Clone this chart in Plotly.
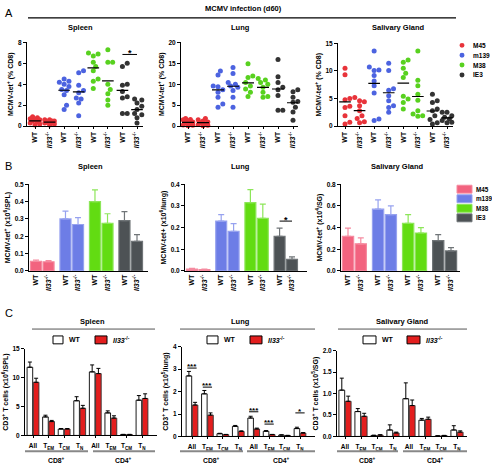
import plotly.graph_objects as go

# ---------------- data ----------------
epitopes = ["M45", "m139", "M38", "IE3"]
geno_ticks = ["WT", "<i>Il33</i><sup>-/-</sup>"]

# Panel A: % tetramer+ of CD8 (one list per epitope: M45, m139, M38, IE3)
a_spleen_wt = [[0.9, 0.8, 0.7, 0.6, 0.6, 0.5, 0.4, 0.3, 0.2, 0.1],
               [4.5, 4.3, 4.2, 4.0, 3.8, 3.5, 3.4, 3.0, 2.0, 1.6],
               [7.0, 6.9, 6.7, 6.1, 5.7, 5.3, 4.5, 4.3, 3.6],
               [6.0, 5.7, 4.0, 3.9, 3.3, 2.8, 2.7, 1.2, 1.2]]
a_spleen_ko = [[0.6, 0.6, 0.5, 0.5, 0.4, 0.4, 0.3, 0.3, 0.2, 0.1],
               [5.3, 5.1, 3.9, 3.4, 3.2, 2.7, 2.6, 2.2, 1.0],
               [7.3, 6.1, 6.1, 4.0, 3.5, 3.1, 2.5, 2.0],
               [2.6, 2.5, 2.2, 1.9, 1.6, 1.2, 1.1, 0.8, 0.3]]
a_lung_wt = [[1.8, 1.6, 1.5, 1.2, 1.0, 0.8, 0.5, 0.3, 0.2, 0.1],
             [13.2, 12.2, 9.6, 9.4, 8.7, 8.1, 6.9, 5.3, 4.5],
             [14.9, 12.0, 11.6, 10.4, 9.6, 8.9, 8.1, 7.1],
             [15.9, 11.8, 10.4, 9.3, 8.7, 7.3, 3.8, 3.8]]
a_lung_ko = [[1.8, 1.5, 1.2, 1.0, 0.8, 0.6, 0.4, 0.2, 0.1],
             [14.0, 12.6, 10.4, 10.0, 9.6, 9.3, 8.5, 6.9, 4.5],
             [11.4, 11.0, 10.4, 10.0, 9.3, 8.1, 7.1, 6.9],
             [8.7, 8.2, 6.9, 5.9, 5.7, 4.5, 3.4, 1.4]]
a_sg_wt = [[10.5, 9.3, 5.0, 4.8, 3.6, 3.4, 1.9, 0.7, 0.4],
           [13.6, 10.7, 10.2, 10.1, 9.2, 8.2, 7.3, 6.0, 1.3, 1.0],
           [12.0, 11.6, 10.5, 9.6, 8.8, 5.4, 4.9, 4.3, 3.1],
           [5.8, 4.6, 4.3, 3.1, 2.8, 1.9, 1.2, 0.6, 0.4]]
a_sg_ko = [[5.2, 4.6, 4.4, 3.7, 2.8, 1.9, 1.4, 0.8, 0.6],
           [11.4, 10.1, 6.8, 6.5, 5.5, 4.6, 3.7, 3.4, 2.5],
           [13.6, 8.3, 7.3, 5.8, 4.7, 2.8, 2.2, 1.9, 1.8],
           [2.5, 2.5, 1.9, 1.6, 1.3, 1.0, 0.7, 0.6]]

# Panel B: absolute numbers, mean and SEM (M45, m139, M38, IE3)
b_spleen_wt = [0.055, 0.30, 0.40, 0.29]
b_spleen_wt_err = [0.008, 0.045, 0.068, 0.052]
b_spleen_ko = [0.053, 0.268, 0.275, 0.17]
b_spleen_ko_err = [0.006, 0.04, 0.055, 0.04]
b_lung_wt = [0.008, 0.23, 0.315, 0.16]
b_lung_wt_err = [0.004, 0.03, 0.06, 0.038]
b_lung_ko = [0.006, 0.183, 0.243, 0.053]
b_lung_ko_err = [0.002, 0.035, 0.065, 0.012]
b_sg_wt = [0.32, 0.57, 0.44, 0.28]
b_sg_wt_err = [0.075, 0.085, 0.08, 0.055]
b_sg_ko = [0.25, 0.52, 0.35, 0.185]
b_sg_ko_err = [0.055, 0.08, 0.05, 0.03]

# Panel C: CD3+ T cell subsets (CD8 All, TEM, TCM, TN, CD4 All, TEM, TCM, TN)
subset_ticks = ["All", "T<sub>EM</sub>", "T<sub>CM</sub>", "T<sub>N</sub>",
                "All", "T<sub>EM</sub>", "T<sub>CM</sub>", "T<sub>N</sub>"]
c_spleen_wt = [11.8, 3.2, 1.1, 6.0, 11.0, 3.9, 0.15, 6.1]
c_spleen_wt_err = [0.9, 0.3, 0.1, 0.7, 1.2, 0.35, 0.04, 0.8]
c_spleen_ko = [9.2, 2.4, 1.1, 4.7, 10.7, 3.0, 0.15, 6.4]
c_spleen_ko_err = [0.7, 0.2, 0.1, 0.5, 0.9, 0.4, 0.04, 0.8]
c_lung_wt = [2.7, 1.9, 0.12, 0.45, 0.82, 0.23, 0.06, 0.35]
c_lung_wt_err = [0.2, 0.15, 0.02, 0.04, 0.08, 0.03, 0.01, 0.06]
c_lung_ko = [1.4, 0.95, 0.08, 0.22, 0.33, 0.08, 0.04, 0.15]
c_lung_ko_err = [0.12, 0.1, 0.01, 0.03, 0.04, 0.01, 0.01, 0.02]
c_sg_wt = [1.08, 0.58, 0.02, 0.15, 0.88, 0.38, 0.01, 0.15]
c_sg_wt_err = [0.28, 0.07, 0.01, 0.12, 0.37, 0.04, 0.005, 0.1]
c_sg_ko = [0.82, 0.47, 0.03, 0.08, 0.72, 0.40, 0.02, 0.10]
c_sg_ko_err = [0.12, 0.07, 0.01, 0.02, 0.13, 0.05, 0.005, 0.03]

# ---------------- style ----------------
W, H = 492, 467
FONT = "Arial, Liberation Sans, sans-serif"
dot_colors = ["#e8333a", "#4c63e0", "#58d11f", "#333333"]
bar_fill = ["#f2637f", "#6d7de6", "#62dc12", "#4d5255"]
bar_line = ["#f58ba0", "#97a2ef", "#8de659", "#707578"]
ko_red = "#e31e1e"

fig = go.Figure()


def X(p):
    return p / W


def Y(p):
    return 1 - p / H


def xrange_for(ax0, ax1, c0, c1, v0, v1):
    ppu = (c1 - c0) / (v1 - v0)
    return [v0 - (c0 - ax0) / ppu, v1 + (ax1 - c1) / ppu], ppu


def swarm(vals, ppu_x, ppu_y, d=4.8, maxw=0.38):
    order = sorted(range(len(vals)), key=lambda i: vals[i])
    placed = []
    offs = [0.0] * len(vals)
    lim = maxw * ppu_x
    cands = [0.0]
    s = 1
    while s * d * 0.5 <= lim + 1e-9:
        cands += [s * d * 0.5, -s * d * 0.5]
        s += 1
    for i in order:
        yv = vals[i] * ppu_y
        best, bestd = 0.0, -1
        chosen = None
        for c in cands:
            md = min([((c - a) ** 2 + (yv - b) ** 2) ** 0.5 for a, b in placed] or [99])
            if md >= d:
                chosen = c
                break
            if md > bestd:
                best, bestd = c, md
        if chosen is None:
            chosen = best
        placed.append((chosen, yv))
        offs[i] = chosen / ppu_x
    return offs


tickfont = dict(family=FONT, size=6.5, color="black", weight="bold")
titlefont = dict(family=FONT, size=7, color="black", weight="bold")
layout = dict(width=W, height=H, margin=dict(l=0, r=0, t=0, b=0), autosize=False,
              paper_bgcolor="white", plot_bgcolor="white", showlegend=False,
              barmode="overlay", font=dict(family=FONT, color="black"))
annotations = []
shapes = []


def set_axes(k, xdom_px, ydom_px, xrng, yrng, ytickvals, ytitle, xtickvals, xticktext,
             xangle, ytickformat=None, xticklen=2, xstandoff=0):
    xs = "xaxis" if k == 1 else f"xaxis{k}"
    ys = "yaxis" if k == 1 else f"yaxis{k}"
    yk = "y" if k == 1 else f"y{k}"
    xk = "x" if k == 1 else f"x{k}"
    layout[xs] = dict(domain=[X(xdom_px[0]), X(xdom_px[1])], anchor=yk, range=xrng,
                      showline=True, linecolor="black", linewidth=1, showgrid=False,
                      zeroline=False, ticks="outside", ticklen=xticklen, tickwidth=1,
                      tickcolor="black", tickvals=xtickvals, ticktext=xticktext,
                      tickangle=xangle, ticklabelstandoff=xstandoff,
                      tickfont=dict(family=FONT, size=7, color="black", weight="bold"),
                      fixedrange=True)
    ya = dict(domain=[Y(ydom_px[1]), Y(ydom_px[0])], anchor=xk, range=yrng,
              showline=True, linecolor="black", linewidth=1, showgrid=False,
              zeroline=False, ticks="outside", ticklen=3, tickwidth=1, tickcolor="black",
              tickvals=ytickvals, tickfont=tickfont,
              title=dict(text=ytitle, font=titlefont, standoff=3), fixedrange=True)
    if ytickformat:
        ya["tickformat"] = ytickformat
    layout[ys] = ya
    return xk, yk


def text(x, y, s, size=7.5, bold=True, xanchor="center", yanchor="middle", xref="paper", yref="paper", yshift=0):
    annotations.append(dict(x=x, y=y, xref=xref, yref=yref, text=s, showarrow=False,
                            xanchor=xanchor, yanchor=yanchor, yshift=yshift, borderpad=0,
                            font=dict(family=FONT, size=size, color="black",
                                      weight="bold" if bold else "normal")))


def pline(x0, y0, x1, y1, color="black", width=1):
    shapes.append(dict(type="line", xref="paper", yref="paper", x0=X(x0), y0=Y(y0),
                       x1=X(x1), y1=Y(y1), line=dict(color=color, width=width)))


# ---------------- Panel A ----------------
a_sets = [
    (1, (27, 143), (39, 124), (35, 137), [0, 8], [0, 2, 4, 6, 8], a_spleen_wt, a_spleen_ko),
    (2, (181, 298), (39, 124), (188, 293), [0, 20], [0, 5, 10, 15, 20], a_lung_wt, a_lung_ko),
    (3, (338, 453), (40, 124), (345, 447), [0, 15], [0, 5, 10, 15], a_sg_wt, a_sg_ko),
]
for k, xd, yd, cc, yr, ytv, wt, ko in a_sets:
    xr, ppu = xrange_for(xd[0], xd[1], cc[0], cc[1], 0, 7)
    ppu_y = (yd[1] - yd[0]) / (yr[1] - yr[0])
    xk, yk = set_axes(k, xd, yd, xr, yr, ytv, "MCMV-tet<sup>+</sup> (% CD8)",
                      list(range(8)), geno_ticks * 4, -90)
    for e in range(4):
        for g, vals in enumerate([wt[e], ko[e]]):
            pos = 2 * e + g
            offs = swarm(vals, ppu, ppu_y)
            fig.add_trace(go.Scatter(x=[pos + o for o in offs], y=vals, mode="markers",
                                     xaxis=xk, yaxis=yk, cliponaxis=False,
                                     marker=dict(size=5, color=dot_colors[e],
                                                 line=dict(width=0))))
            m = sum(vals) / len(vals)
            fig.add_trace(go.Scatter(x=[pos - 0.4, pos + 0.4], y=[m, m], mode="lines",
                                     xaxis=xk, yaxis=yk, cliponaxis=False,
                                     line=dict(color="black", width=1.2)))
    if k == 1:
        shapes.append(dict(type="line", xref=xk, yref=yk, x0=6, x1=7, y0=6.85, y1=6.85,
                           line=dict(color="black", width=1)))
        text(6.5, 6.85, "*", size=9, xref=xk, yref=yk, yanchor="bottom", yshift=-5)

# Panel A header
text(X(4), Y(9), "A", size=11, bold=False, xanchor="left")
text(X(243), Y(5), "MCMV infection (d60)", size=7.5)
pline(28, 14, 456, 14, width=1.2)
text(X(80), Y(24), "Spleen")
text(X(240), Y(24), "Lung")
text(X(398), Y(24), "Salivary Gland")
for e in range(4):
    yy = 42 + 10 * e
    shapes.append(dict(type="circle", xref="paper", yref="paper",
                       x0=X(459.5), x1=X(464.5), y0=Y(yy + 2.5), y1=Y(yy - 2.5),
                       fillcolor=dot_colors[e], line=dict(width=0)))
    text(X(472), Y(yy), epitopes[e], size=6.5, xanchor="left")

# ---------------- Panel B ----------------
gstep = 2.35
b_pos = []
for e in range(4):
    b_pos += [e * gstep, e * gstep + 1]
b_sets = [
    (4, (29, 148), (183, 271), (36, 137), [0, 0.5], [0, 0.1, 0.2, 0.3, 0.4, 0.5],
     "MCMV-tet<sup>+</sup> (x10<sup>6</sup>/SPL)", b_spleen_wt, b_spleen_wt_err, b_spleen_ko, b_spleen_ko_err),
    (5, (185, 307), (183, 271), (192, 292), [0, 0.4], [0, 0.1, 0.2, 0.3, 0.4],
     "MCMV-tet+ (x10<sup>6</sup>/lung)", b_lung_wt, b_lung_wt_err, b_lung_ko, b_lung_ko_err),
    (6, (341, 460), (183, 271), (348, 451), [0, 0.8], [0, 0.2, 0.4, 0.6, 0.8],
     "MCMV-tet<sup>+</sup> (x10<sup>4</sup>/SG)", b_sg_wt, b_sg_wt_err, b_sg_ko, b_sg_ko_err),
]
for k, xd, yd, cc, yr, ytv, ytitle, wt, wte, ko, koe in b_sets:
    xr, ppu = xrange_for(xd[0], xd[1], cc[0], cc[1], b_pos[0], b_pos[-1])
    xk, yk = set_axes(k, xd, yd, xr, yr, ytv, ytitle, b_pos, geno_ticks * 4, -90,
                      ytickformat=".1f", xticklen=0)
    for e in range(4):
        fig.add_trace(go.Bar(x=[b_pos[2 * e], b_pos[2 * e + 1]], y=[wt[e], ko[e]],
                             xaxis=xk, yaxis=yk, width=0.88, offset=-0.44,
                             marker=dict(color=bar_fill[e], line=dict(color=bar_line[e], width=1.2)),
                             error_y=dict(type="data", symmetric=False, array=[wte[e], koe[e]],
                                          arrayminus=[0, 0], color=bar_line[e], thickness=1.2, width=3)))
    if k == 5:
        shapes.append(dict(type="line", xref=xk, yref=yk, x0=b_pos[6], x1=b_pos[7],
                           y0=0.23, y1=0.23, line=dict(color="black", width=1)))
        text((b_pos[6] + b_pos[7]) / 2, 0.23, "*", size=9, xref=xk, yref=yk,
             yanchor="bottom", yshift=-5)

text(X(4), Y(164), "B", size=11, bold=False, xanchor="left")
text(X(90), Y(165), "Spleen")
text(X(240), Y(165), "Lung")
text(X(397), Y(165), "Salivary Gland")
for e in range(4):
    yy = 188 + 9.7 * e
    shapes.append(dict(type="rect", xref="paper", yref="paper",
                       x0=X(457), x1=X(472), y0=Y(yy + 4), y1=Y(yy - 4),
                       fillcolor=bar_fill[e], line=dict(color=bar_line[e], width=1)))
    text(X(475), Y(yy), epitopes[e], size=6.3, xanchor="left")

# ---------------- Panel C ----------------
c_sets = [
    (7, (25, 157), (350, 438), (33, 142), [0, 15], [0, 5, 10, 15], None,
     "CD3<sup>+</sup> T cells (x10<sup>6</sup>/SPL)", c_spleen_wt, c_spleen_wt_err, c_spleen_ko, c_spleen_ko_err),
    (8, (182, 315), (348, 439), (192, 300), [0, 4], [0, 1, 2, 3, 4], None,
     "CD3<sup>+</sup> T cells (x10<sup>5</sup>/lung)", c_lung_wt, c_lung_wt_err, c_lung_ko, c_lung_ko_err),
    (9, (337, 467), (352, 439), (345, 457), [0, 2], [0, 0.5, 1.0, 1.5, 2.0], ".1f",
     "CD3<sup>+</sup> T cells (x10<sup>5</sup>/SG)", c_sg_wt, c_sg_wt_err, c_sg_ko, c_sg_ko_err),
]
cx = list(range(8))
for k, xd, yd, cc, yr, ytv, fmt, ytitle, wt, wte, ko, koe in c_sets:
    xr, ppu = xrange_for(xd[0], xd[1], cc[0], cc[1], 0, 7)
    xk, yk = set_axes(k, xd, yd, xr, yr, ytv, ytitle, cx, subset_ticks, 0,
                      ytickformat=fmt, xticklen=2, xstandoff=2)
    layout["xaxis%d" % k]["tickfont"] = dict(family=FONT, size=6.5, color="black", weight="bold")
    fig.add_trace(go.Bar(x=cx, y=wt, xaxis=xk, yaxis=yk, width=0.36, offset=-0.38,
                         marker=dict(color="white", line=dict(color="black", width=0.9)),
                         error_y=dict(type="data", symmetric=False, array=wte, arrayminus=[0] * 8,
                                      color="black", thickness=1, width=2)))
    fig.add_trace(go.Bar(x=cx, y=ko, xaxis=xk, yaxis=yk, width=0.36, offset=0.02,
                         marker=dict(color=ko_red, line=dict(color="#333333", width=0.9)),
                         error_y=dict(type="data", symmetric=False, array=koe, arrayminus=[0] * 8,
                                      color="black", thickness=1, width=2)))
    if k == 8:
        for xi, ly, s in [(0, 3.05, "***"), (1, 2.2, "***"), (4, 1.1, "***"), (5, 0.55, "***"), (7, 1.05, "*")]:
            shapes.append(dict(type="line", xref=xk, yref=yk, x0=xi - 0.3, x1=xi + 0.3,
                               y0=ly, y1=ly, line=dict(color="black", width=1)))
            text(xi, ly, s, size=8, xref=xk, yref=yk, yanchor="bottom", yshift=-4)

text(X(4), Y(314), "C", size=11, bold=False, xanchor="left")
c_heads = [("Spleen", 92, 32, 155, 25, 88, 93, 155, (53, 63), (95, 107)),
           ("Lung", 240, 180, 315, 180, 243, 247, 315, (207, 218), (250, 262)),
           ("Salivary Gland", 402, 338, 467, 337, 398, 403, 467, (363, 376), (407, 420))]
for name, tx, l0, l1, b80, b81, b40, b41, wbox, kbox in c_heads:
    text(X(tx), Y(322), name)
    pline(l0, 330, l1, 330, color="#555555", width=1)
    shapes.append(dict(type="rect", xref="paper", yref="paper", x0=X(wbox[0]), x1=X(wbox[1]),
                       y0=Y(345), y1=Y(337), fillcolor="white", line=dict(color="black", width=1)))
    text(X(wbox[1] + 5), Y(341), "WT", size=7, xanchor="left")
    shapes.append(dict(type="rect", xref="paper", yref="paper", x0=X(kbox[0]), x1=X(kbox[1]),
                       y0=Y(345), y1=Y(337), fillcolor=ko_red, line=dict(color="black", width=1)))
    text(X(kbox[1] + 5), Y(341), "<i>Il33</i><sup>-/-</sup>", size=7, xanchor="left")
    pline(b80, 454, b81, 454, color="#888888", width=2)
    pline(b40, 454, b41, 454, color="#888888", width=2)
    text(X((b80 + b81) / 2), Y(468), "CD8<sup>+</sup>", size=6.8, yanchor="bottom")
    text(X((b40 + b41) / 2), Y(468), "CD4<sup>+</sup>", size=6.8, yanchor="bottom")

layout["annotations"] = annotations
layout["shapes"] = shapes
fig.update_layout(**layout)
fig.write_html("out.html", config={"displayModeBar": False},
               post_script="document.body.style.margin='0';document.body.style.overflow='hidden';")
